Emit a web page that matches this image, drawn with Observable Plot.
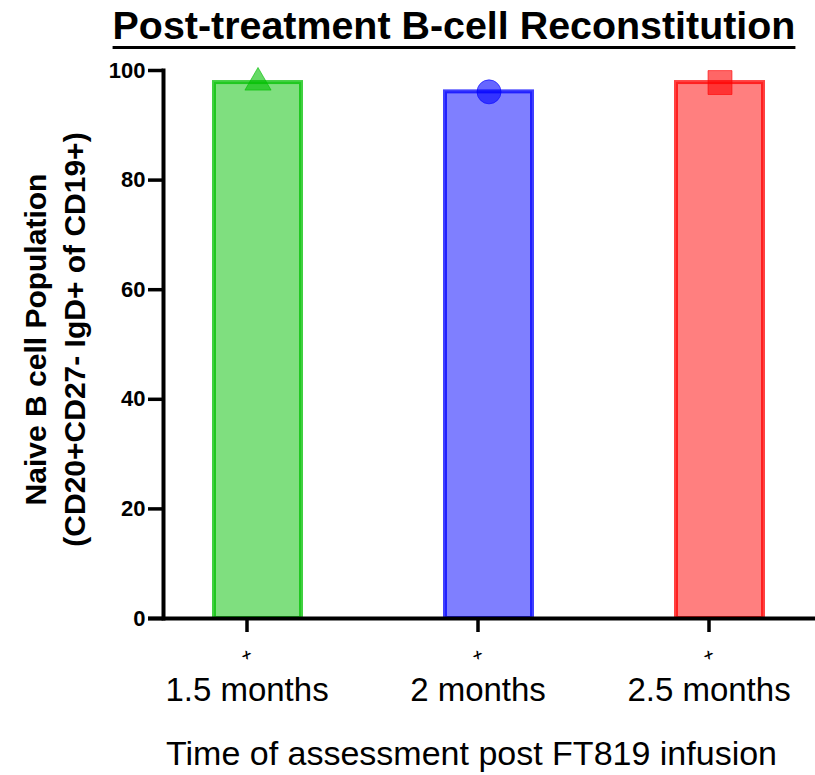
<!DOCTYPE html>
<html><head><meta charset="utf-8">
<script src="https://cdn.jsdelivr.net/npm/d3@7"></script>
<script src="https://cdn.jsdelivr.net/npm/@observablehq/plot@0.6"></script>
<style>
body{margin:0;background:#fff;font-family:"Liberation Sans",Arial,sans-serif;}
#title{position:relative;height:56px;width:815px;}
#title span{position:absolute;left:454px;top:5px;transform:translateX(-50%);white-space:nowrap;
 font-size:39.4px;line-height:40px;font-weight:bold;color:#000;
 text-decoration:underline;text-decoration-thickness:3px;text-underline-offset:7px;}
#chart svg{display:block;}
</style></head><body>
<div id="title"><span>Post-treatment B-cell Reconstitution</span></div>
<div id="chart"></div>
<script>
const categories = ["1.5 months", "2 months", "2.5 months"];
const values = [97.8, 96.1, 97.8];
const colors = ["#00c000", "#0000ff", "#ff0000"];
const symbols = ["triangle", "circle", "square"];
const yTicks = [0, 20, 40, 60, 80, 100];
const yLabel = "Naive B cell Population\n(CD20+CD27- IgD+ of CD19+)";
const xLabel = "Time of assessment post FT819 infusion";

const data = categories.map((c, i) => ({cat: c, value: values[i], color: colors[i], symbol: symbols[i]}));
const symbolSize = {triangle: 9.7, circle: 12, square: 13.5};
const symbolObj = {triangle: d3.symbolTriangle, circle: d3.symbolCircle, square: d3.symbolSquare};

const plot = Plot.plot({
  width: 815, height: 719,
  marginTop: 14, marginBottom: 157, marginLeft: 163, marginRight: 2,
  style: {fontFamily: "'Liberation Sans', Arial, sans-serif", background: "white", color: "black", overflow: "visible"},
  x: {domain: categories, paddingInner: 0.624, paddingOuter: 0.216, label: null},
  y: {domain: [0, 100], label: null},
  color: {type: "identity"},
  r: {type: "identity"},
  symbol: {domain: symbols, range: symbols.map(s => symbolObj[s])},
  marks: [
    Plot.barY(data, {x: "cat", y: "value", fill: "color", fillOpacity: 0.5, stroke: "color", strokeOpacity: 0.75, strokeWidth: 4}),
    Plot.dot(data, {x: "cat", y: "value", symbol: "symbol", r: d => symbolSize[d.symbol], fill: "color", fillOpacity: 0.6, stroke: "color", strokeOpacity: 0.6, strokeWidth: 1}),
    Plot.ruleY([0], {strokeWidth: 4, insetLeft: -15, insetRight: -2}),
    Plot.frame({anchor: "left", strokeWidth: 4}),
    Plot.axisY({ticks: yTicks, tickSize: 15, tickPadding: 3, strokeWidth: 3.5, fontSize: 22, fontWeight: "bold", label: null, tickFormat: d => d}),
    Plot.axisX({tickSize: 14, tickPadding: 45, strokeWidth: 3.5, fontSize: 33, dx: -11, label: null}),
    Plot.text(categories, {x: d => d, y: () => 0, text: () => "x", fontSize: 13, fontWeight: "bold", dx: -11, dy: 36, rotate: 30}),
    Plot.text([yLabel], {frameAnchor: "left", textAnchor: "middle", rotate: -90, dx: -110, dy: -5, fontSize: 30, fontWeight: "bold", lineHeight: 1.3}),
    Plot.text([xLabel], {frameAnchor: "bottom", textAnchor: "middle", dy: 146, dx: -17, fontSize: 34})
  ]
});
document.getElementById("chart").appendChild(plot);
</script>
</body></html>
